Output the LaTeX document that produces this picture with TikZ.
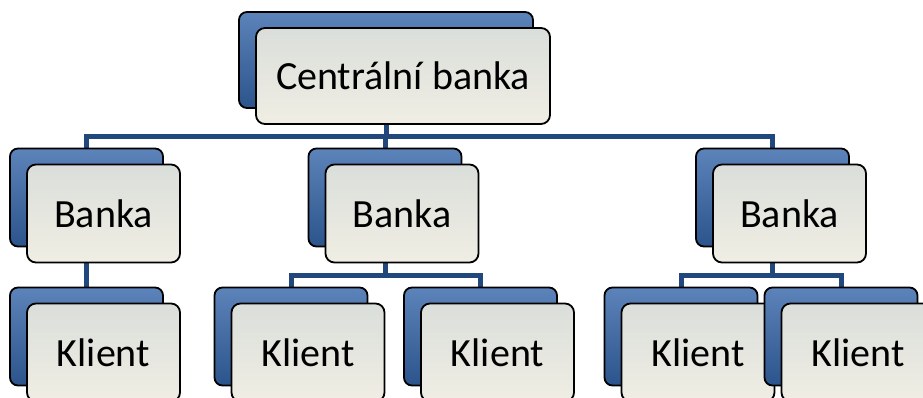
\documentclass[tikz,border=0pt]{standalone}
\usepackage{fontspec}
\setmainfont{Carlito}
\usepackage{tikz}
\usetikzlibrary{calc}
\usetikzlibrary{backgrounds}

\definecolor{linkblue}{RGB}{33,72,124}
\definecolor{backtop}{RGB}{92,132,186}
\definecolor{backbot}{RGB}{44,84,140}
\definecolor{fronttop}{RGB}{218,222,218}
\definecolor{frontbot}{RGB}{240,238,228}

\begin{document}
\begin{tikzpicture}[x=1pt, y=-1pt,
        back/.style={draw=black, line width=1.8pt, rounded corners=8pt, top color=backtop, bottom color=backbot, inner sep=0pt, minimum width=153pt, minimum height=98pt},
        front/.style={draw=black, line width=1.8pt, rounded corners=9pt, top color=fronttop, bottom color=frontbot, inner sep=0pt, minimum width=153pt, minimum height=98pt, font=\fontsize{40}{44}\selectfont},
        wide/.style={minimum width=294pt, minimum height=96pt},
        link/.style={draw=linkblue, line width=5pt}]

        \useasboundingbox (0,0) rectangle (923,397);

        \coordinate (shift) at (17,16);
        \coordinate (bus0) at (0,136);
        \coordinate (bus1) at (0,275);

        % root
        \node[back, wide] (cbb) at (386,60) {};
        \node[front, wide] (cb) at ($(cbb)+(shift)$) {Centrální banka};

        % banks
        \node[back] (b1b) at (86.5,197.5) {};
        \node[front] (b1) at ($(b1b)+(shift)$) {Banka};
        \node[back] (b2b) at (385,197.5) {};
        \node[front] (b2) at ($(b2b)+(shift)$) {Banka};
        \node[back] (b3b) at (772.5,197.5) {};
        \node[front] (b3) at ($(b3b)+(shift)$) {Banka};

        % clients
        \node[back] (k1b) at (86.5,336.5) {};
        \node[front] (k1) at ($(k1b)+(shift)$) {Klient};
        \node[back] (k2b) at (291,336.5) {};
        \node[front] (k2) at ($(k2b)+(shift)$) {Klient};
        \node[back] (k3b) at (480.5,336.5) {};
        \node[front] (k3) at ($(k3b)+(shift)$) {Klient};
        \node[back] (k4b) at (681,336.5) {};
        \node[front] (k4) at ($(k4b)+(shift)$) {Klient};
        \node[back] (k5b) at (841,336.5) {};
        \node[front] (k5) at ($(k5b)+(shift)$) {Klient};

        \begin{scope}[on background layer]
            \foreach \b in {b1b,b2b,b3b}
                \path[link] (cbb.center) -- (cbb.center |- bus0) -| (\b.center);
            \path[link] (b1b.center) -- (k1b.center);
            \foreach \k in {k2b,k3b}
                \path[link] (b2b.center) -- (b2b.center |- bus1) -| (\k.center);
            \foreach \k in {k4b,k5b}
                \path[link] (b3b.center) -- (b3b.center |- bus1) -| (\k.center);
        \end{scope}

    \end{tikzpicture}
\end{document}
